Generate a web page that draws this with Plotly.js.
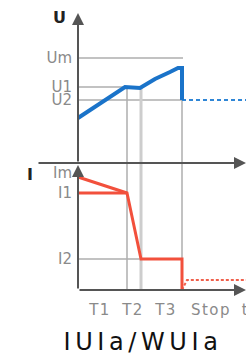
<!DOCTYPE html>
<html>
<head>
<meta charset="utf-8">
<script src="https://cdn.plot.ly/plotly-3.0.1.min.js"></script>
<style>html,body{margin:0;padding:0;background:#fff;}#chart{width:246px;height:363px;}</style>
</head>
<body>
<div id="chart"></div>
<script>
// ---- data (schematic units) ----
const voltLevelNames = ['Um', 'U1', 'U2'];
const voltLevels = [10.5, 7.6, 6.3];
const currLevelNames = ['Im', 'I1', 'I2'];
const currLevels = [11.7, 9.7, 3.1];
const phaseNames = ['T1', 'T2', 'T3'];
const phaseTimes = [4.9, 6.3, 10.4];
const timeTickText = ['T1', 'T2', 'T3', 'Stop', 't'];
const timeTickVals = [2.2, 5.5, 8.8, 13.3, 16.75];

const voltTime = [0, 4.7, 6.2, 7.7, 9.2, 10.0, 10.4, 10.4];
const voltValue = [4.5, 7.6, 7.5, 8.4, 9.1, 9.5, 9.5, 6.3];
const voltAfterTime = [10.4, 16.8];
const voltAfterValue = [6.3, 6.3];

const currTime = [0, 4.9, 6.3, 10.4, 10.4];
const currValue = [11.3, 9.7, 3.1, 3.1, 0];
const currFloorTime = [0, 4.9];
const currFloorValue = [9.7, 9.7];
const currAfterTime = [10.4, 10.9, 16.8];
const currAfterValue = [0, 1.0, 1.0];

// axis extents (schematic units)
const xMin = -7.8, xMax = 16.8;
const uMax = 16.3, iMax = 12.7;

const [Um, U1, U2] = voltLevels;
const [T1, T2, T3] = phaseTimes;
const I2 = currLevels[2];

const guide = {color: '#aeaeae', width: 1.5};
const wideGuide = {color: '#cdcdcd', width: 3};
function line(x, y, yaxis, style) {
  return {type: 'scatter', mode: 'lines', x: x, y: y, yaxis: yaxis, xaxis: 'x',
    line: style, hoverinfo: 'skip', showlegend: false};
}

const traces = [
  // guides top
  line([0, T3 + 0.1], [Um, Um], 'y', guide),
  line([0, T1], [U1, U1], 'y', guide),
  line([0, T3], [U2, U2], 'y', guide),
  line([T1, T1], [U1, 0], 'y', guide),
  line([T2, T2], [voltValue[2], 0], 'y', wideGuide),
  line([T3, T3], [voltValue[5], 0], 'y', guide),
  // guides bottom
  line([0, T2], [I2, I2], 'y2', guide),
  line([T1, T1], [iMax, 0], 'y2', guide),
  line([T2, T2], [iMax, 0], 'y2', wideGuide),
  line([T3, T3], [iMax, 0], 'y2', guide),
  // voltage
  line(voltAfterTime, voltAfterValue, 'y', {color: '#2f86d6', width: 2, dash: '4px,3px'}),
  line(voltTime, voltValue, 'y', {color: '#1a73c9', width: 4}),
  // current
  line(currAfterTime, currAfterValue, 'y2', {color: '#f0604c', width: 2, dash: '3px,2px'}),
  line(currFloorTime, currFloorValue, 'y2', {color: '#f2503c', width: 3}),
  line(currTime, currValue, 'y2', {color: '#f2503c', width: 3})
];

const H = 363, W = 246;
const yZeroU = 163, yZeroI = 290; // pixel rows of the two zero lines
const axisPos = (0 - xMin) / (xMax - xMin);
const tickFont = {family: 'DejaVu Sans', size: 15, color: '#8a8a8a'};

function arrow(x, y, ax, ay, yref) {
  return {x: x, y: y, ax: ax, ay: ay, xref: 'x', yref: yref, axref: 'x', ayref: yref,
    text: '', showarrow: true, arrowhead: 2, arrowsize: 1.2, arrowwidth: 2, arrowcolor: '#555'};
}

const layout = {
  width: W, height: H,
  margin: {l: 0, r: 0, t: 0, b: 0},
  paper_bgcolor: '#fff', plot_bgcolor: 'rgba(0,0,0,0)',
  showlegend: false,
  title: {
    text: '<span style="letter-spacing:4.6px">IUIa/WUIa</span>',
    font: {family: 'DejaVu Sans', size: 24, color: '#111'},
    x: 143 / W, xanchor: 'center', xref: 'paper',
    y: 1 - 342 / H, yanchor: 'middle', yref: 'container'
  },
  xaxis: {
    domain: [0, 1], range: [xMin, xMax], anchor: 'y2',
    showgrid: false, zeroline: false, showline: false, ticks: '',
    tickmode: 'array', tickvals: timeTickVals,
    ticktext: timeTickText.map(t => '<span style="letter-spacing:1.5px">' + t + '</span>'),
    tickfont: tickFont, ticklabelstandoff: 9, ticklabeloverflow: 'allow',
    automargin: false, fixedrange: true
  },
  yaxis: {
    domain: [(H - yZeroU) / H, 1], range: [0, uMax],
    anchor: 'free', position: axisPos,
    showgrid: false, zeroline: false, showline: false, ticks: '',
    tickmode: 'array', tickvals: voltLevels, ticktext: voltLevelNames,
    tickfont: tickFont, ticklabelstandoff: 6, automargin: false, fixedrange: true
  },
  yaxis2: {
    domain: [(H - yZeroI) / H, (H - yZeroU) / H], range: [0, iMax],
    anchor: 'free', position: axisPos,
    showgrid: false, zeroline: false, showline: false, ticks: '',
    tickmode: 'array', tickvals: currLevels, ticktext: currLevelNames,
    tickfont: tickFont, ticklabelstandoff: 6, automargin: false, fixedrange: true
  },
  annotations: [
    arrow(0, 15.0, 0, 0, 'y'),                 // U axis
    arrow(xMax, 0, -4.1, 0, 'y'),              // middle time axis
    arrow(0, 12.5, 0, 0, 'y2'),                // I axis
    arrow(xMax, 0, 0, 0, 'y2'),                // bottom time axis
    {x: -1.9, y: 14.6, xref: 'x', yref: 'y', text: '<b>U</b>', showarrow: false,
     font: {family: 'DejaVu Sans', size: 16, color: '#222'}},
    {x: -4.8, y: 11.6, xref: 'x', yref: 'y2', text: '<b>I</b>', showarrow: false,
     font: {family: 'DejaVu Sans', size: 16, color: '#222'}}
  ]
};

Plotly.newPlot('chart', traces, layout, {staticPlot: true, displayModeBar: false});
</script>
</body>
</html>
